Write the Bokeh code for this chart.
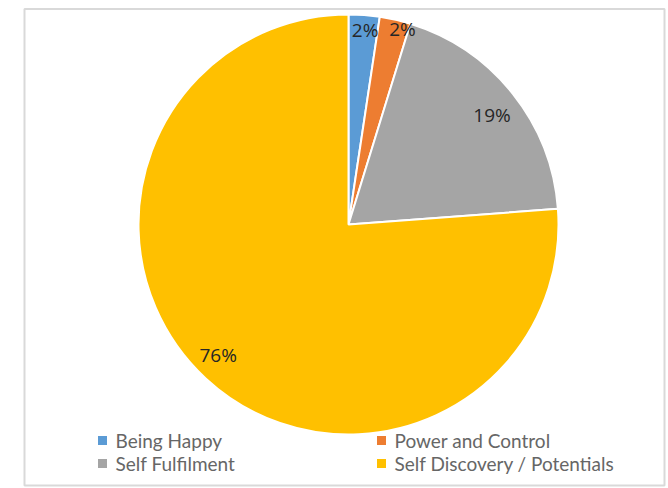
import numpy as np
from bokeh.plotting import figure
from bokeh.models import Range1d, ColumnDataSource
from bokeh.core.properties import value
from bokeh.embed import file_html
from bokeh.resources import INLINE

categories = ["Being Happy", "Power and Control", "Self Fulfilment", "Self Discovery / Potentials"]
shares = [2.38, 2.38, 19.05, 76.19]
labels = ["2%", "2%", "19%", "76%"]
colors = ["#5B9BD5", "#ED7D31", "#A5A5A5", "#FFC000"]

W, H = 668, 488
p = figure(width=W, height=H, output_backend="svg", toolbar_location=None,
           x_range=Range1d(0, W), y_range=Range1d(0, H), min_border=0)
p.axis.visible = False
p.grid.visible = False
p.outline_line_color = None
p.background_fill_color = "white"
p.border_fill_color = "white"

def sx(x):
    return x

def sy(y):
    return H - y

# frame
p.quad(left=[sx(24)], right=[sx(664)], top=[sy(8.5)], bottom=[sy(485)],
       fill_color=None, line_color="#d9d9d9", line_width=2)

cx, cy, r = sx(348), sy(224), 210
vals = np.array(shares, dtype=float)
frac = vals / vals.sum()
cum = np.concatenate([[0], np.cumsum(frac)])
start = np.pi / 2 - 2 * np.pi * cum[1:]
end = np.pi / 2 - 2 * np.pi * cum[:-1]
src = ColumnDataSource(dict(start=start, end=end, color=colors, cat=categories))
p.wedge(x=cx, y=cy, radius=r, start_angle="start", end_angle="end",
        fill_color="color", line_color="white", line_width=2, source=src)

# data labels
mid = (start + end) / 2
rf = np.array([0.93, 0.965, 0.86, 0.88])
aoff = np.radians([-0.6, -2.6, -1.2, -2.0])
lx = cx + r * rf * np.cos(mid + aoff)
ly = cy + r * rf * np.sin(mid + aoff)
p.text(x=lx, y=ly, text=labels, text_align="center", text_baseline="middle",
       text_font=value("Open Sans"), text_font_size="19px", text_color="#262626")

# legend
leg_x = [sx(102), sx(381), sx(102), sx(381)]
leg_y = [sy(440), sy(440), sy(463), sy(463)]
p.scatter(x=leg_x, y=leg_y, marker="square", size=9, fill_color=colors, line_color=None)
p.text(x=[v + 13 for v in leg_x], y=leg_y, text=categories, text_align="left",
       text_baseline="middle", text_font=value("Lato"), text_font_size="19px",
       text_color="#666666")

open("out.html", "w").write(file_html(p, INLINE))
